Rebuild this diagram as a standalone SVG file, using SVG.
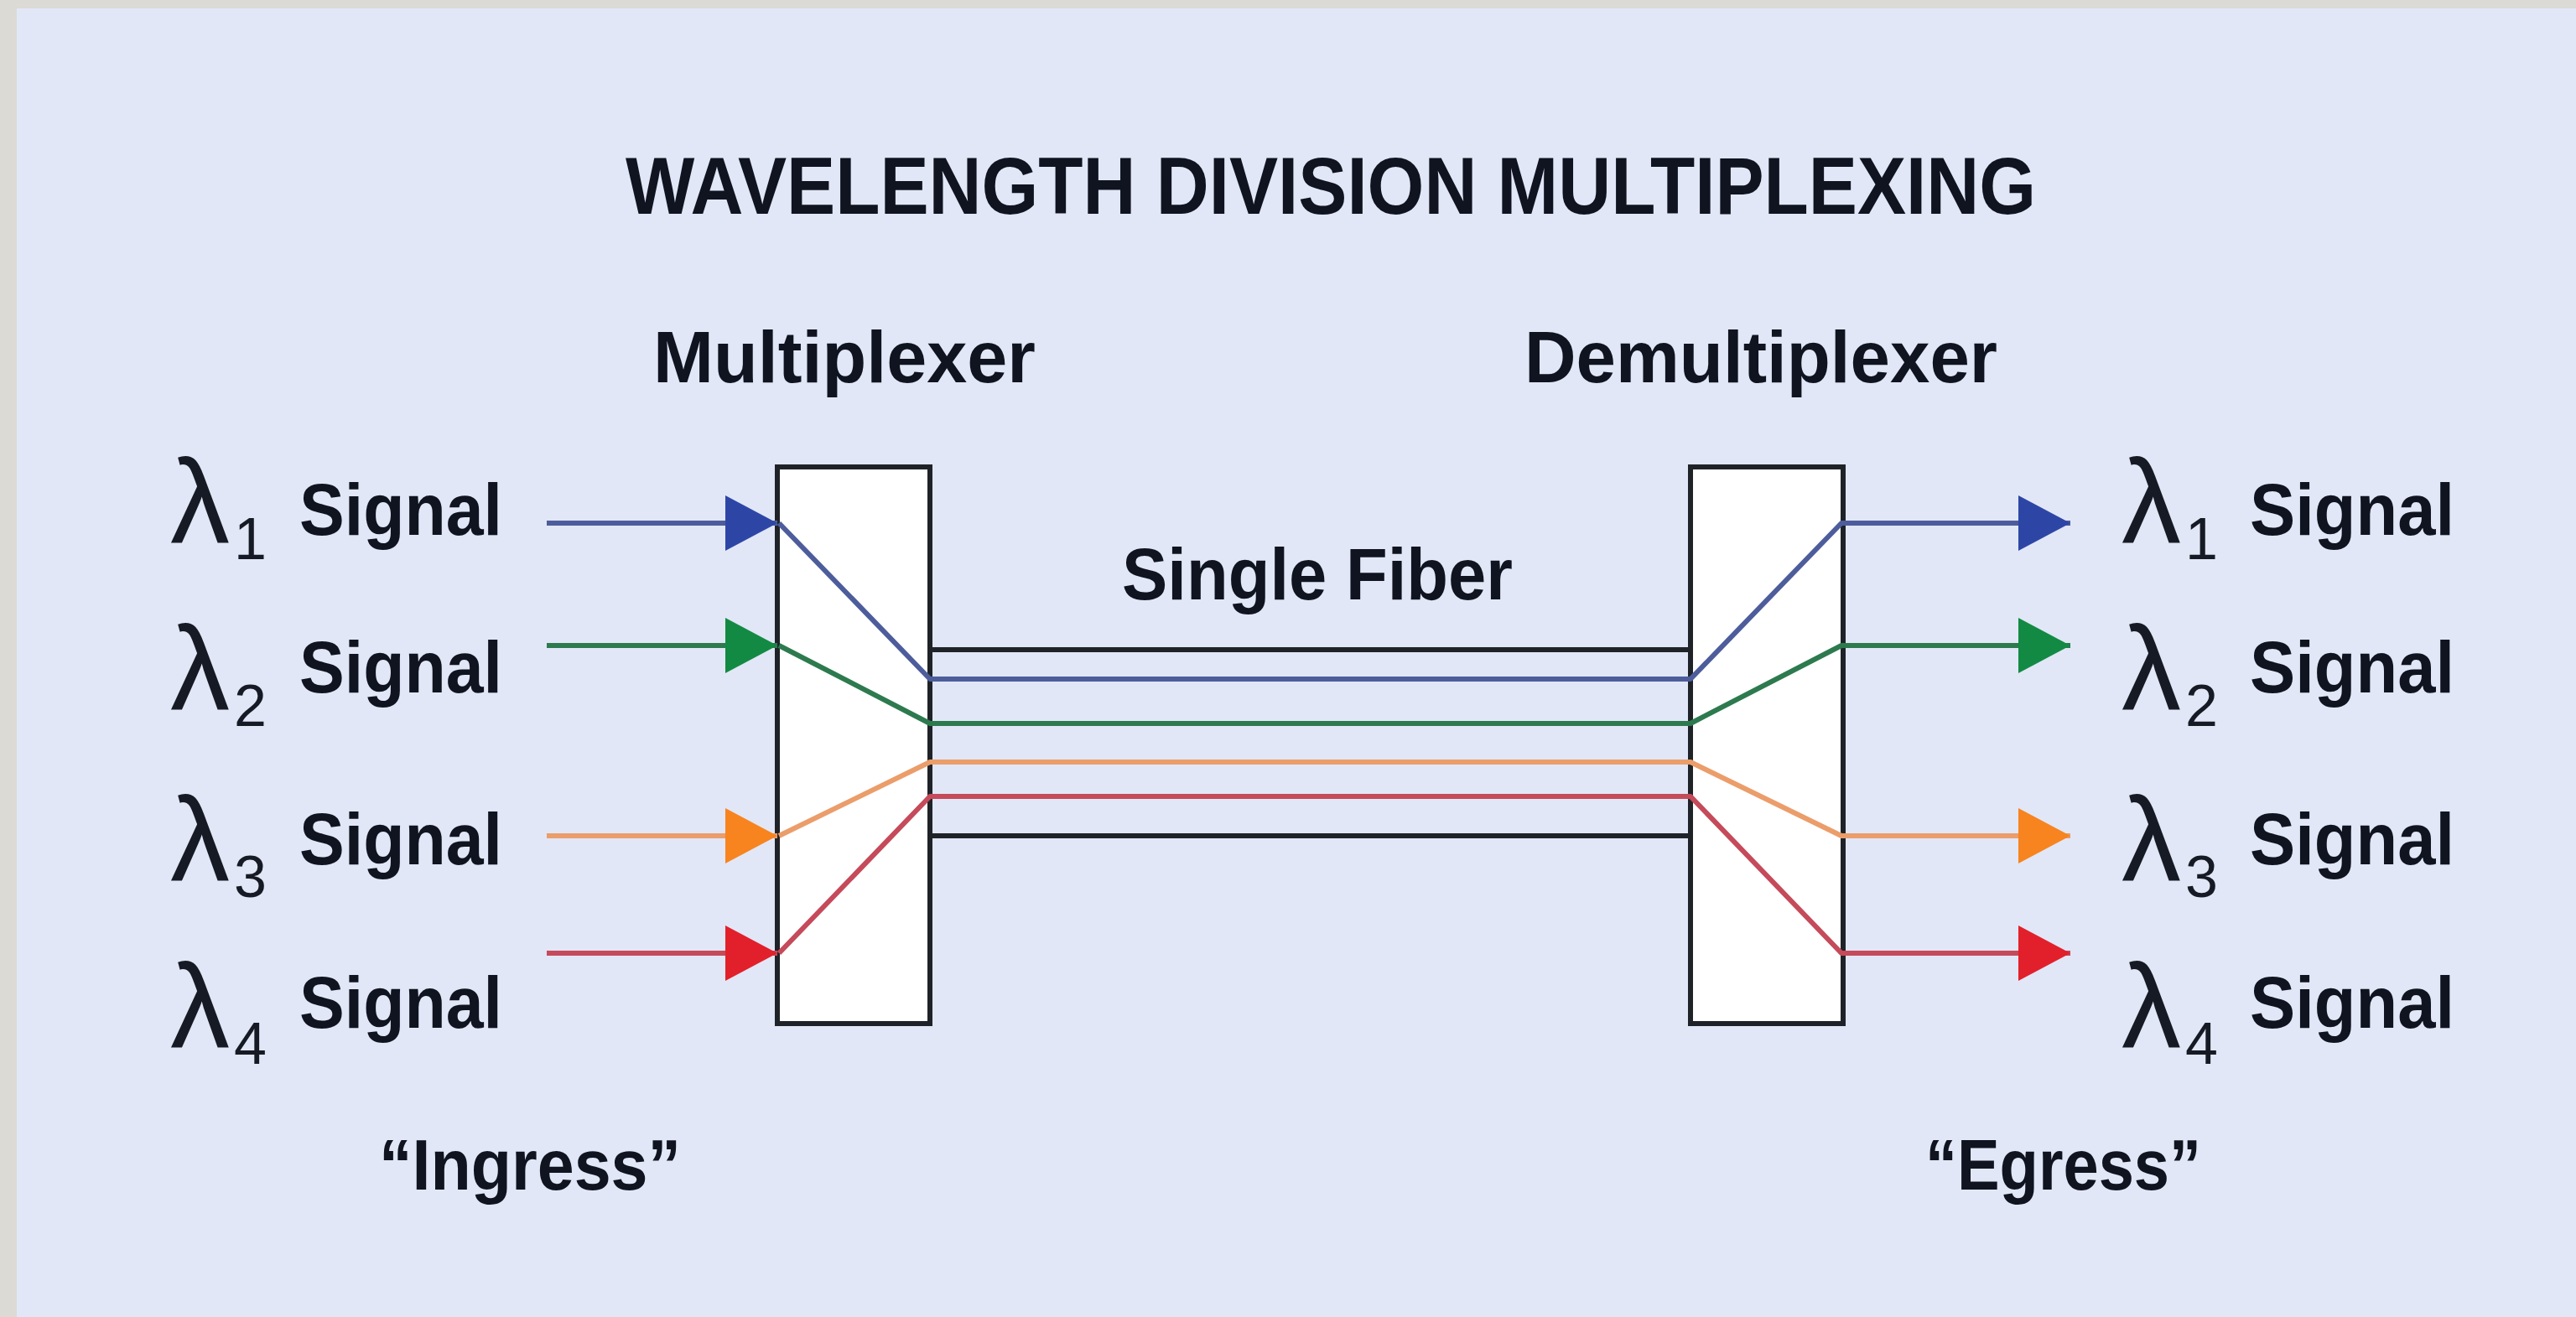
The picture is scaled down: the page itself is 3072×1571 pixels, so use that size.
<svg xmlns="http://www.w3.org/2000/svg" width="3072" height="1571" viewBox="0 0 3072 1571">
  <style>
    .lbl { font-family: "Liberation Sans", Arial, sans-serif; font-weight: bold; fill: #0f1420; }
    .lam { font-family: "Liberation Sans", Arial, sans-serif; font-weight: normal; fill: #161a24; }
    .box { fill: #ffffff; stroke: #1f2328; stroke-width: 6; }
    .ln { fill: none; stroke-width: 6; stroke-linejoin: round; }
    .blue { stroke: #4d5d9c; }
    .green { stroke: #2d7a4f; }
    .orange { stroke: #eb9d6a; }
    .red { stroke: #c54a5a; }
    .black { stroke: #1f2328; }
  </style>
  <defs>
    <marker id="ahB" markerUnits="userSpaceOnUse" markerWidth="62" markerHeight="66" refX="62" refY="33" orient="auto"><path d="M0,0 L62,33 L0,66 z" fill="#2d46a6"/></marker>
    <marker id="ahG" markerUnits="userSpaceOnUse" markerWidth="62" markerHeight="66" refX="62" refY="33" orient="auto"><path d="M0,0 L62,33 L0,66 z" fill="#138a43"/></marker>
    <marker id="ahO" markerUnits="userSpaceOnUse" markerWidth="62" markerHeight="66" refX="62" refY="33" orient="auto"><path d="M0,0 L62,33 L0,66 z" fill="#f7841f"/></marker>
    <marker id="ahR" markerUnits="userSpaceOnUse" markerWidth="62" markerHeight="66" refX="62" refY="33" orient="auto"><path d="M0,0 L62,33 L0,66 z" fill="#e2202b"/></marker>
  </defs>

  <rect x="0" y="0" width="3072" height="1571" fill="#dcdad4"/>
  <rect x="20" y="10" width="3052" height="1561" fill="#e1e7f6"/>

  <g id="title">
    <text class="lbl" x="746" y="255" font-size="96" textLength="1682" lengthAdjust="spacingAndGlyphs">WAVELENGTH DIVISION MULTIPLEXING</text>
  </g>

  <g id="multiplexer">
    <text class="lbl" x="779" y="456" font-size="88" textLength="456" lengthAdjust="spacingAndGlyphs">Multiplexer</text>
    <rect class="box" x="927" y="557" width="182" height="664"/>
  </g>

  <g id="demultiplexer">
    <text class="lbl" x="1818" y="456" font-size="88" textLength="564" lengthAdjust="spacingAndGlyphs">Demultiplexer</text>
    <rect class="box" x="2016" y="557" width="182" height="664"/>
  </g>

  <g id="fiber-label">
    <text class="lbl" x="1338" y="715" font-size="88" textLength="466" lengthAdjust="spacingAndGlyphs">Single Fiber</text>
  </g>

  <g id="connectors">
    <!-- input arrows -->
    <path class="ln blue" d="M652,624 L927,624" marker-end="url(#ahB)"/>
    <path class="ln green" d="M652,770 L927,770" marker-end="url(#ahG)"/>
    <path class="ln orange" d="M652,997 L927,997" marker-end="url(#ahO)"/>
    <path class="ln red" d="M652,1137 L927,1137" marker-end="url(#ahR)"/>
    <!-- fiber outer lines -->
    <path class="ln black" d="M1109,775 L2016,775"/>
    <path class="ln black" d="M1109,997 L2016,997"/>
    <!-- wavelength paths through mux, fiber, demux -->
    <path class="ln blue" d="M929,624 L1109,810 L2016,810 L2196,624 L2469,624" marker-end="url(#ahB)"/>
    <path class="ln green" d="M929,770 L1109,863 L2016,863 L2196,770 L2469,770" marker-end="url(#ahG)"/>
    <path class="ln orange" d="M929,997 L1109,909 L2016,909 L2196,997 L2469,997" marker-end="url(#ahO)"/>
    <path class="ln red" d="M929,1137 L1109,950 L2016,950 L2196,1137 L2469,1137" marker-end="url(#ahR)"/>
  </g>

  <g id="input-signals">
    <text class="lam" x="203" y="648" font-size="142">λ</text>
    <text class="lam" x="279" y="667" font-size="70">1</text>
    <text class="lbl" x="357" y="638" font-size="87" textLength="242" lengthAdjust="spacingAndGlyphs">Signal</text>

    <text class="lam" x="203" y="847" font-size="142">λ</text>
    <text class="lam" x="279" y="866" font-size="70">2</text>
    <text class="lbl" x="357" y="826" font-size="87" textLength="242" lengthAdjust="spacingAndGlyphs">Signal</text>

    <text class="lam" x="203" y="1051" font-size="142">λ</text>
    <text class="lam" x="279" y="1070" font-size="70">3</text>
    <text class="lbl" x="357" y="1031" font-size="87" textLength="242" lengthAdjust="spacingAndGlyphs">Signal</text>

    <text class="lam" x="203" y="1250" font-size="142">λ</text>
    <text class="lam" x="279" y="1269" font-size="70">4</text>
    <text class="lbl" x="357" y="1226" font-size="87" textLength="242" lengthAdjust="spacingAndGlyphs">Signal</text>
  </g>

  <g id="output-signals">
    <text class="lam" x="2530" y="648" font-size="142">λ</text>
    <text class="lam" x="2606" y="667" font-size="70">1</text>
    <text class="lbl" x="2683" y="638" font-size="87" textLength="244" lengthAdjust="spacingAndGlyphs">Signal</text>

    <text class="lam" x="2530" y="847" font-size="142">λ</text>
    <text class="lam" x="2606" y="866" font-size="70">2</text>
    <text class="lbl" x="2683" y="826" font-size="87" textLength="244" lengthAdjust="spacingAndGlyphs">Signal</text>

    <text class="lam" x="2530" y="1051" font-size="142">λ</text>
    <text class="lam" x="2606" y="1070" font-size="70">3</text>
    <text class="lbl" x="2683" y="1031" font-size="87" textLength="244" lengthAdjust="spacingAndGlyphs">Signal</text>

    <text class="lam" x="2530" y="1250" font-size="142">λ</text>
    <text class="lam" x="2606" y="1269" font-size="70">4</text>
    <text class="lbl" x="2683" y="1226" font-size="87" textLength="244" lengthAdjust="spacingAndGlyphs">Signal</text>
  </g>

  <g id="ingress">
    <text class="lbl" x="452" y="1419" font-size="86" textLength="360" lengthAdjust="spacingAndGlyphs">“Ingress”</text>
  </g>
  <g id="egress">
    <text class="lbl" x="2296" y="1419" font-size="86" textLength="329" lengthAdjust="spacingAndGlyphs">“Egress”</text>
  </g>
</svg>
